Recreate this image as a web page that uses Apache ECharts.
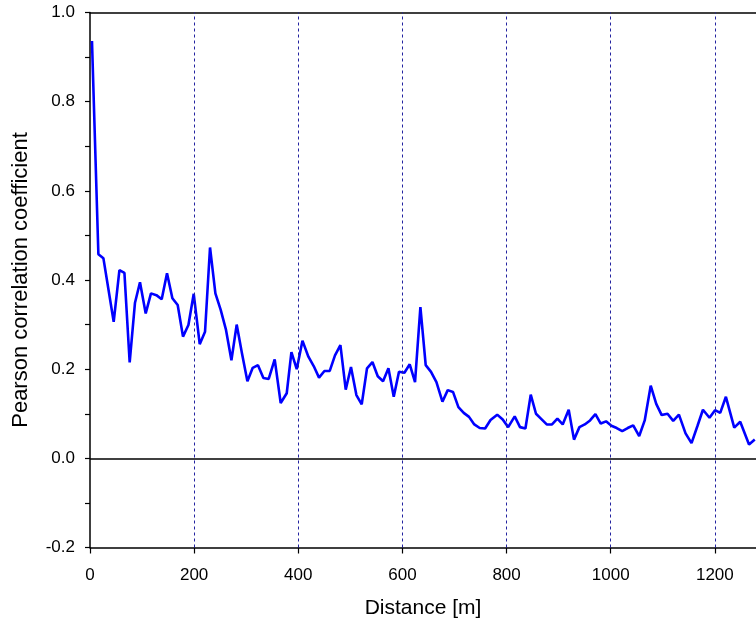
<!DOCTYPE html>
<html>
<head>
<meta charset="utf-8">
<script src="https://cdn.jsdelivr.net/npm/echarts@6/dist/echarts.min.js"></script>
<style>
html,body{margin:0;padding:0;background:#fff;}
#chart{width:756px;height:624px;}
</style>
</head>
<body>
<div id="chart"></div>
<script>
// distances [m]
var distances = [3.8,16.1,25.7,35.7,45.5,56.5,66.1,76.2,86.4,96.0,107.0,117.1,127.5,137.7,147.9,158.2,168.4,178.6,189.0,199.2,
210.7,220.9,230.5,240.8,251.0,261.2,271.6,281.7,291.9,302.3,312.5,322.6,333.0,343.2,354.7,366.2,377.8,386.8,397.0,408.0,
419.4,429.6,439.8,450.2,460.4,470.5,480.9,491.1,501.2,511.6,521.8,532.0,542.4,552.6,562.8,573.1,583.3,593.4,603.8,614.0,
624.2,634.5,644.7,654.9,665.3,676.8,687.0,697.1,707.5,717.7,727.9,
738.0,748.4,758.8,769.2,782.0,792.6,803.1,815.6,825.8,836.2,846.4,856.5,866.9,877.1,887.3,897.6,907.8,919.3,929.5,939.9,
950.1,960.3,970.6,980.8,991.0,1001.3,1011.5,1022.1,1032.6,1043.2,1054.7,1065.3,1076.8,1087.4,1097.9,1109.1,1120.0,1131.0,
1143.7,1155.2,1166.7,1177.1,1189.7,1200.3,1210.3,1221.2,1237.2,1248.7,1265.6,1276.6];
// Pearson correlation coefficient
var pearson = [0.936,0.458,0.449,0.377,0.306,0.422,0.416,0.215,0.349,0.395,0.325,0.370,0.366,0.357,0.415,0.359,0.344,0.273,0.299,0.369,
0.256,0.284,0.473,0.370,0.333,0.288,0.220,0.300,0.235,0.173,0.203,0.209,0.180,0.178,0.222,0.124,0.146,0.238,0.200,0.264,
0.228,0.207,0.181,0.196,0.196,0.231,0.254,0.154,0.205,0.142,0.121,0.202,0.216,0.184,0.173,0.202,0.138,0.194,0.192,0.211,
0.171,0.339,0.209,0.194,0.171,0.127,0.153,0.149,0.115,0.102,0.093,
0.076,0.068,0.067,0.086,0.098,0.087,0.070,0.094,0.070,0.067,0.143,0.100,0.088,0.076,0.076,0.089,0.076,0.109,0.042,0.070,
0.076,0.085,0.099,0.078,0.083,0.073,0.068,0.061,0.068,0.074,0.050,0.085,0.163,0.122,0.097,0.100,0.084,0.098,
0.056,0.034,0.073,0.109,0.091,0.108,0.102,0.138,0.069,0.082,0.031,0.042];
var xTicks = [0,200,400,600,800,1000,1200];
var gridXs = [200,400,600,800,1000,1200];

var lineData = distances.map(function(d,i){return [d, pearson[i]];});
var chart = echarts.init(document.getElementById('chart'), null, {renderer:'canvas'});
var font = 'Liberation Sans, Arial, sans-serif';
chart.setOption({
  animation:false,
  backgroundColor:'#fff',
  grid:{left:90, right:0, top:12.5, bottom:76.5, containLabel:false},
  xAxis:[{
    type:'value', min:0, max:1279, position:'bottom',
    name:'Distance [m]', nameLocation:'middle', nameGap:50,
    nameTextStyle:{fontFamily:font, fontSize:21, color:'#000'},
    axisLine:{show:true, onZero:false, lineStyle:{color:'#000', width:1.5}},
    axisTick:{show:true, inside:false, length:6, customValues:xTicks, lineStyle:{color:'#000', width:1.2}},
    axisLabel:{show:true, customValues:xTicks, margin:19, fontFamily:font, fontSize:17, color:'#000',
      formatter:function(v){return String(Math.round(v));}},
    splitLine:{show:false}
  },{
    type:'value', min:0, max:1279, position:'top',
    axisLine:{show:true, onZero:false, lineStyle:{color:'#000', width:1.5}},
    axisTick:{show:false}, axisLabel:{show:false}, splitLine:{show:false}
  }],
  yAxis:{
    type:'value', min:-0.2, max:1.0, interval:0.1,
    name:'Pearson correlation coefficient', nameLocation:'middle', nameGap:58, nameRotate:90,
    nameTextStyle:{fontFamily:font, fontSize:22, color:'#000'},
    axisLine:{show:true, onZero:false, lineStyle:{color:'#000', width:1.5}},
    axisTick:{show:true, inside:false, length:5, lineStyle:{color:'#000', width:1.2}},
    axisLabel:{margin:15, fontFamily:font, fontSize:17, color:'#000',
      formatter:function(v){var k=Math.round(v*10); return (k%2===0)?(k/10).toFixed(1):'';}},
    splitLine:{show:false}
  },
  series:[{
    type:'line', data:[], z:1, silent:true,
    markLine:{
      silent:true, symbol:['none','none'], label:{show:false}, animation:false,
      lineStyle:{color:'#2222a0', type:[3,3], width:1},
      data:gridXs.map(function(x){return {xAxis:x};})
    }
  },{
    type:'line', data:[], z:1, silent:true,
    markLine:{
      silent:true, symbol:['none','none'], label:{show:false}, animation:false,
      lineStyle:{color:'#000', type:'solid', width:1.5},
      data:[{yAxis:0}]
    }
  },{
    type:'line', data:lineData, z:3, showSymbol:false, symbol:'none',
    lineStyle:{color:'#0000ff', width:2.6}, clip:true
  }]
});
</script>
</body>
</html>
